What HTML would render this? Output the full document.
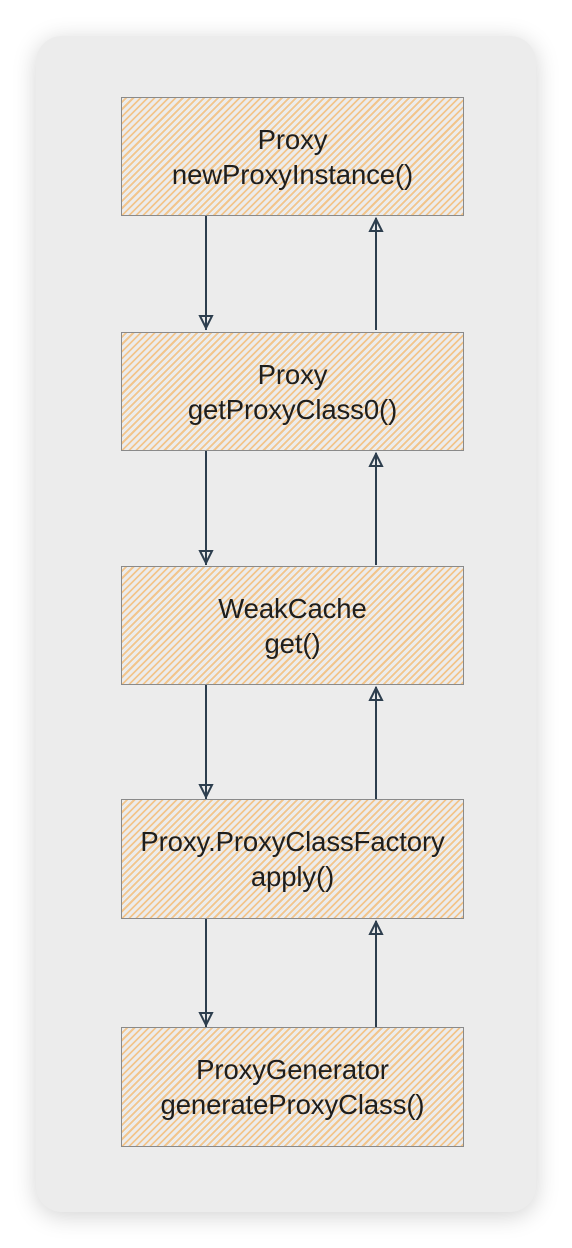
<!DOCTYPE html>
<html><head><style>
html,body{margin:0;padding:0;background:#fff;}
body{width:572px;height:1248px;position:relative;overflow:hidden;font-family:"Liberation Sans",sans-serif;}
.panel{position:absolute;left:36px;top:36px;width:500px;height:1176px;background:#ececec;border-radius:26px;box-shadow:0 4px 24px rgba(0,0,0,0.18);}
.box{position:absolute;left:121px;width:341px;border:1.5px solid #8a8a8a;
background:repeating-linear-gradient(-45deg,#f2c58c 0 1.8px,#ececec 1.8px 5px);
display:flex;align-items:center;justify-content:center;text-align:center;font-size:27.5px;line-height:35px;color:#1e1e1e;letter-spacing:-0.1px;white-space:nowrap;}
svg{position:absolute;left:0;top:0;}
</style></head><body>
<div class="panel"></div>
<div class="box" style="top:97px;height:117px;"><span>Proxy<br>newProxyInstance()</span></div>
<div class="box" style="top:332px;height:117px;"><span>Proxy<br>getProxyClass0()</span></div>
<div class="box" style="top:566px;height:117px;"><span>WeakCache<br>get()</span></div>
<div class="box" style="top:799px;height:118px;"><span>Proxy.ProxyClassFactory<br>apply()</span></div>
<div class="box" style="top:1027px;height:118px;"><span>ProxyGenerator<br>generateProxyClass()</span></div>
<svg width="572" height="1248" fill="none" stroke="#2d3e4e" stroke-width="2">
<g>
<path d="M206 216 L206 330"/><path d="M200 316 L206 328 L212 316 Z"/>
<path d="M376 330 L376 218"/><path d="M370 231 L376 219 L382 231 Z"/>
</g>
<g transform="translate(0,235)">
<path d="M206 216 L206 330"/><path d="M200 316 L206 328 L212 316 Z"/>
<path d="M376 330 L376 218"/><path d="M370 231 L376 219 L382 231 Z"/>
</g>
<g transform="translate(0,469)">
<path d="M206 216 L206 330"/><path d="M200 316 L206 328 L212 316 Z"/>
<path d="M376 330 L376 218"/><path d="M370 231 L376 219 L382 231 Z"/>
</g>
<g transform="translate(0,703)">
<path d="M206 216 L206 324"/><path d="M200 310 L206 322 L212 310 Z"/>
<path d="M376 324 L376 218"/><path d="M370 231 L376 219 L382 231 Z"/>
</g>
</svg>
</body></html>
